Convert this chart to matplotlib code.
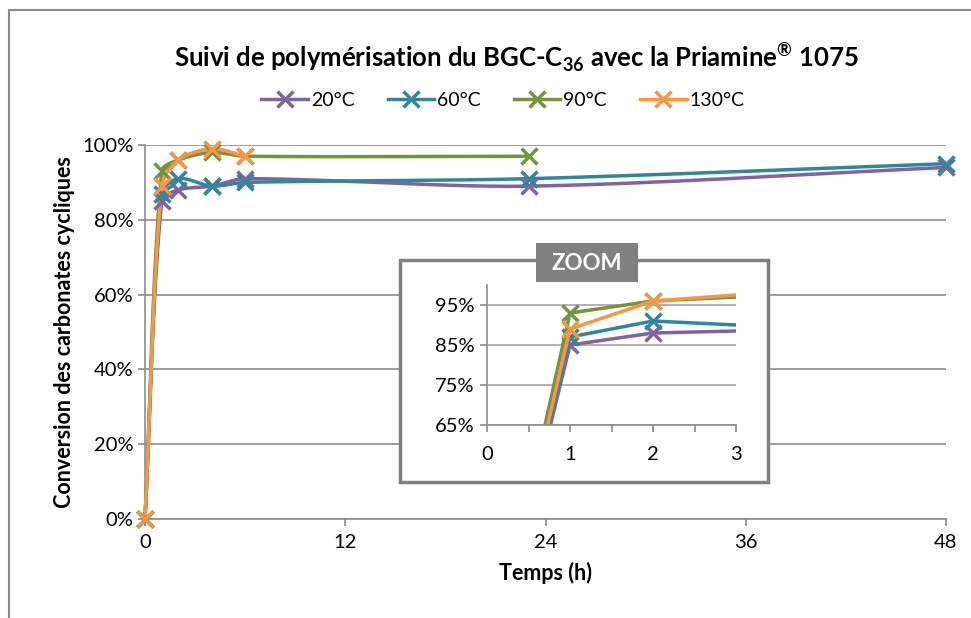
import numpy as np
import matplotlib.pyplot as plt
from matplotlib.patches import Rectangle
from matplotlib.lines import Line2D
from matplotlib.ticker import PercentFormatter, MultipleLocator

plt.rcParams['font.family'] = ['Lato', 'DejaVu Sans']
plt.rcParams['mathtext.fontset'] = 'custom'
plt.rcParams['mathtext.rm'] = 'Lato'
plt.rcParams['mathtext.bf'] = 'Lato:bold'

temps = [0, 1, 2, 4, 6, 23, 48]
conv_20 = [0.0, 0.85, 0.88, 0.89, 0.91, 0.89, 0.94]
conv_60 = [0.0, 0.87, 0.91, 0.89, 0.90, 0.91, 0.95]
conv_90 = [0.0, 0.93, 0.96, 0.98, 0.97, 0.97]
conv_130 = [0.0, 0.89, 0.96, 0.99, 0.97]
labels = ['20°C', '60°C', '90°C', '130°C']
colors = ['#8064A2', '#31859C', '#77933C', '#F79646']
series = [conv_20, conv_60, conv_90, conv_130]


def smooth(x, y, sx=801 / 48, sy=374, n=40, k=0.3):
    # smoothed line like Excel: Bezier segments, tangent scaled by segment length
    P = np.column_stack([np.asarray(x) * sx, np.asarray(y) * sy])
    m = len(P)
    d = []
    for i in range(m):
        a = P[i - 1] if i > 0 else P[i]
        b = P[i + 1] if i + 1 < m else P[i]
        v = b - a
        d.append(v / np.linalg.norm(v))
    out = [P[0]]
    for i in range(m - 1):
        L = np.linalg.norm(P[i + 1] - P[i])
        c1 = P[i] + d[i] * L * k
        c2 = P[i + 1] - d[i + 1] * L * k
        t = np.linspace(0, 1, n)[1:, None]
        pts = ((1 - t) ** 3 * P[i] + 3 * (1 - t) ** 2 * t * c1
               + 3 * (1 - t) * t ** 2 * c2 + t ** 3 * P[i + 1])
        out.extend(pts)
    out = np.array(out)
    return out[:, 0] / sx, out[:, 1] / sy


fig = plt.figure(figsize=(9.71, 6.18), dpi=100)
fig.patches.append(Rectangle((9 / 971, -0.1), 1.2, (618 - 10) / 618 + 0.1,
                             transform=fig.transFigure, fill=False,
                             edgecolor='#8c8c8c', lw=1.5))

ax = fig.add_axes([145 / 971, 99 / 618, 801 / 971, 374 / 618])
for y, c in zip(series, colors):
    xs, ys = smooth(temps[:len(y)], y)
    ax.plot(xs, ys, color=c, lw=2.5, solid_capstyle='round', zorder=3,
            clip_on=False)
    ax.plot(temps[:len(y)], y, ls='none', marker='x', ms=12, mew=2.5,
            color=c, zorder=4, clip_on=False)

ax.set_xlim(0, 48)
ax.set_ylim(0, 1)
ax.set_xticks([0, 12, 24, 36, 48])
ax.set_yticks(np.arange(0, 1.01, 0.2))
ax.yaxis.set_major_formatter(PercentFormatter(1, decimals=0))
ax.grid(axis='y', color='#8c8c8c', lw=1.2)
ax.set_axisbelow(True)
for s in ['top', 'right']:
    ax.spines[s].set_visible(False)
for s in ['left', 'bottom']:
    ax.spines[s].set_color('#8c8c8c')
    ax.spines[s].set_linewidth(1.2)
ax.tick_params(colors='#8c8c8c', labelcolor='black', labelsize=14.5,
               length=5, width=1.2)
ax.tick_params(axis='x', pad=6)
ax.set_xlabel('Temps (h)', fontsize=15.5, fontweight='bold', labelpad=8)
ax.set_ylabel('Conversion des carbonates cycliques', fontsize=15.5,
              fontweight='bold', labelpad=5)

fig.text(0.532, 0.908,
         r'Suivi de polymérisation du BGC-C$_{\mathbf{36}}$ avec la Priamine$^{\mathbf{®}}$ 1075',
         ha='center', va='center', fontsize=18.5, fontweight='bold')

handles = [Line2D([], [], color=c, lw=2.5, marker='x', ms=11, mew=2.5)
           for c in colors]
fig.legend(handles, labels, loc='center', bbox_to_anchor=(0.518, 0.838),
           ncol=4, frameon=False, fontsize=14, handlelength=2.4,
           handletextpad=0.15, columnspacing=1.7)

# inset frame
fig.patches.append(Rectangle((400 / 971, (618 - 482) / 618), 368 / 971,
                             222 / 618, transform=fig.transFigure,
                             facecolor='white', edgecolor='#808080', lw=2.5,
                             zorder=5))
fig.patches.append(Rectangle((536 / 971, (618 - 282) / 618), 102 / 971,
                             39 / 618, transform=fig.transFigure,
                             facecolor='#808080', edgecolor='none', zorder=6))
fig.text(587 / 971, (618 - 263) / 618, 'ZOOM', ha='center', va='center',
         color='white', fontsize=16, fontweight='bold', zorder=7)

axi = fig.add_axes([487 / 971, 193 / 618, 249 / 971, 140 / 618], zorder=8)
axi.patch.set_alpha(0)
for y, c in zip(series, colors):
    axi.plot(temps[:len(y)], y, color=c, lw=2.5, marker='x', ms=11, mew=2.5)
axi.set_xlim(0, 3)
axi.set_ylim(0.65, 1.0)
axi.set_xticks([0, 1, 2, 3])
axi.xaxis.set_minor_locator(MultipleLocator(0.5))
axi.set_yticks([0.65, 0.75, 0.85, 0.95])
axi.yaxis.set_major_formatter(PercentFormatter(1, decimals=0))
axi.grid(axis='y', color='#a6a6a6', lw=1.2)
axi.set_axisbelow(True)
for s in ['top', 'right']:
    axi.spines[s].set_visible(False)
for s in ['left', 'bottom']:
    axi.spines[s].set_color('#8c8c8c')
    axi.spines[s].set_linewidth(1.2)
axi.tick_params(which='both', colors='#8c8c8c', labelcolor='black',
                labelsize=14.5, length=5, width=1.2)
axi.tick_params(axis='x', pad=10)
axi.tick_params(axis='y', pad=4)

fig.savefig('out.png', dpi=100)
